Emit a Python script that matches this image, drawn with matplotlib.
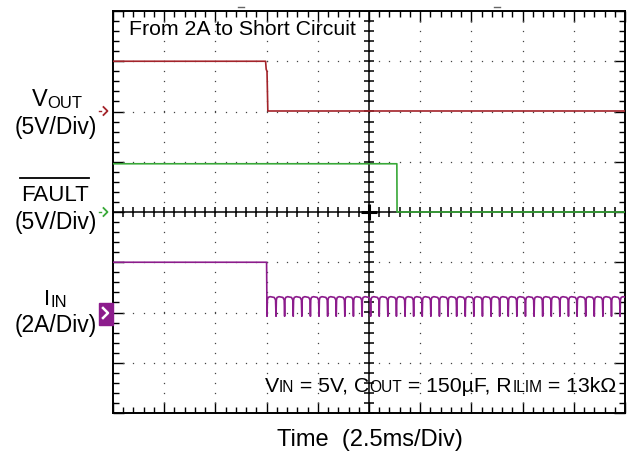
import numpy as np
import matplotlib.pyplot as plt
from matplotlib.lines import Line2D
from matplotlib.patches import Rectangle
from matplotlib.ticker import MultipleLocator

plt.rcParams['font.family'] = ['Liberation Sans', 'DejaVu Sans']

# scope settings (units per division) and ground offsets (in divisions)
vout_scale, vout_offset = 5.0, 2.0
fault_scale, fault_offset = 5.0, 0.0
iin_scale, iin_offset = 2.0, -2.0

# VOUT trace (ms, V)
vout_t = [0.0, 7.45, 7.48, 7.52, 7.56, 25.0]
vout_v = [5.0, 5.0, 4.2, 4.0, 0.05, 0.05]

# FAULT trace (ms, V)
fault_t = [0.0, 13.86, 13.87, 25.0]
fault_v = [4.8, 4.8, 0.0, 0.0]

# IIN before the short (ms, A)
iin_t0 = [0.0, 7.50, 7.52]
iin_a0 = [2.0, 2.0, 0.0]

# hiccup current limit: times of the dips (ms) and shape of one pulse
dip_times = [7.52, 7.96, 8.38, 8.80, 9.22, 9.64, 10.06, 10.48, 10.90, 11.32,
             11.74, 12.16, 12.58, 13.00, 13.42, 13.84, 14.26, 14.68, 15.10,
             15.52, 15.94, 16.36, 16.78, 17.20, 17.62, 18.04, 18.46, 18.88,
             19.30, 19.72, 20.14, 20.56, 20.98, 21.40, 21.82, 22.24, 22.66,
             23.08, 23.50, 23.92, 24.34, 24.76, 25.18]
pulse_phase = [0.0, 0.04, 0.12, 0.35, 0.8, 0.95]
pulse_amp = [-0.15, 0.5, 0.6, 0.63, 0.6, 0.5]

c_vout = '#a3232a'
c_fault = '#38a838'
c_iin = '#8c1c8c'

W, H = 634, 453
fig = plt.figure(figsize=(W / 100, H / 100), dpi=100)
ax = fig.add_axes([113 / W, 40 / H, 512 / W, 402 / H])
ax.set_xlim(0, 25)
ax.set_ylim(-4, 4)


def fx(px):
    return px / W


def fy(py):
    return 1 - py / H


def fig_line(xs, ys, **kw):
    fig.add_artist(Line2D([fx(v) for v in xs], [fy(v) for v in ys], **kw))


# graticule: border ticks
ax.xaxis.set_major_locator(MultipleLocator(2.5))
ax.xaxis.set_minor_locator(MultipleLocator(0.5))
ax.yaxis.set_major_locator(MultipleLocator(1))
ax.yaxis.set_minor_locator(MultipleLocator(0.2))
ax.tick_params(which='both', direction='in', top=True, right=True,
               labelbottom=False, labelleft=False, color='black')
ax.tick_params(which='major', length=8, width=1.0)
ax.tick_params(which='minor', length=4.5, width=1.0)
for s in ax.spines.values():
    s.set_linewidth(1.4)

# dotted grid
for xm in np.arange(2.5, 25, 2.5):
    yd = np.arange(-4, 4.01, 0.2)
    ax.plot(np.full_like(yd, xm), yd, ls='none', marker='s', ms=0.9,
            mec='none', mfc='#444444')
for ym in range(-3, 4):
    xd = np.arange(0, 25.01, 0.5)
    ax.plot(xd, np.full_like(xd, ym), ls='none', marker='s', ms=0.9,
            mec='none', mfc='#444444')

# centre cross with ticks
ax.axvline(12.5, color='black', lw=1.1)
ax.axhline(0, color='black', lw=1.1)
yt = np.arange(-4, 4.01, 0.2)
ax.plot(np.full_like(yt, 12.5), yt, ls='none', marker='_', ms=7.5, mew=1.1,
        color='black')
xt = np.arange(0, 25.01, 0.5)
ax.plot(xt, np.zeros_like(xt), ls='none', marker='|', ms=7, mew=1.1,
        color='black')
ax.plot([12.5], [0], marker='+', ms=12, mew=2.2, color='black')

# traces
ax.plot(vout_t, np.array(vout_v) / vout_scale + vout_offset, color=c_vout,
        lw=1.2, zorder=5)
ax.plot(fault_t, np.array(fault_v) / fault_scale + fault_offset, color=c_fault,
        lw=1.2, zorder=5)

iin_t = list(iin_t0)
iin_a = list(iin_a0)
for t0, t1 in zip(dip_times[:-1], dip_times[1:]):
    for p, a in zip(pulse_phase, pulse_amp):
        iin_t.append(t0 + p * (t1 - t0))
        iin_a.append(a)
ax.plot(iin_t, np.array(iin_a) / iin_scale + iin_offset, color=c_iin,
        lw=1.2, zorder=5)

# channel markers on the left
for yc, col in ((111, c_vout), (212, c_fault)):
    fig_line([103.5, 107.5, 103.5], [yc - 4, yc, yc + 4], color=col, lw=1.3)
    fig_line([99, 100.5], [yc, yc], color=col, lw=1)
fig.add_artist(Rectangle((fx(99), fy(325)), fx(113) - fx(99),
                         fy(303) - fy(325), color=c_iin))
fig_line([103, 108, 103], [308, 313, 318], color='white', lw=1.8)

# trigger marks at the top
for xm in (241, 497):
    fig_line([xm - 3, xm + 3], [6.5, 6.5], color='#666666', lw=1)


def rich(x, y, pieces):
    t = fig.text(fx(x), fy(y), pieces[0][0], fontsize=pieces[0][1],
                 va='baseline', ha='left')
    for s, size in pieces[1:]:
        t = ax.annotate(s, xy=(1, 0), xycoords=t, va='bottom', ha='left',
                        fontsize=size, annotation_clip=False)
    return t


# channel labels
rich(32, 106, [('V', 17), ('OUT', 12)])
fig.text(fx(56), fy(134), '(5V/Div)', fontsize=16.5, ha='center',
         va='baseline')
fig.text(fx(55), fy(201.5), 'FAULT', fontsize=16, ha='center', va='baseline')
fig_line([20, 89], [178, 178], color='black', lw=1.3)
fig.text(fx(56), fy(229), '(5V/Div)', fontsize=16.5, ha='center',
         va='baseline')
rich(44, 305, [('I', 16), ('IN', 12)])
fig.text(fx(56), fy(332), '(2A/Div)', fontsize=16.5, ha='center',
         va='baseline')

# annotations
fig.text(fx(129), fy(35), 'From 2A to Short Circuit', fontsize=15.3,
         ha='left', va='baseline')
rich(265, 391.5, [('V', 15.3), ('IN', 11.2), (' = 5V, C', 15.3), ('OUT', 11.2),
                  (' = 150\u00b5F, R', 15.3), ('ILIM', 11.2),
                  (' = 13k\u03a9', 15.3)])
fig.text(fx(370), fy(446), 'Time  (2.5ms/Div)', fontsize=17, ha='center',
         va='baseline')

fig.savefig('out.png', dpi=100)
